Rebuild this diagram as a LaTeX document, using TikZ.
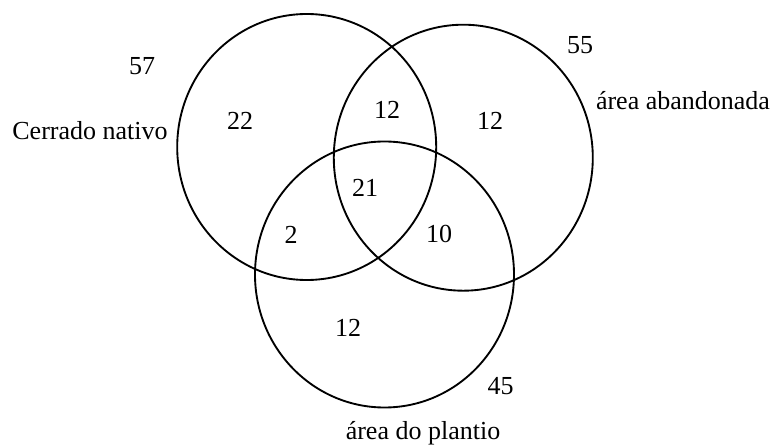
\documentclass[tikz,border=0pt]{standalone}
\usepackage{fontspec}
\setmainfont{Liberation Serif}
\usetikzlibrary{shapes.geometric}
\tikzset{
  venn/.style={draw=black, line width=1.4pt, ellipse, inner sep=0pt, outer sep=0pt,
    minimum width=194.25pt, minimum height=199.5pt},
  lbl/.style={inner sep=0pt, anchor=base, font=\fontsize{19.5}{22}\selectfont}
}
\begin{document}
\begin{tikzpicture}[x=0.75pt,y=-0.75pt]
\useasboundingbox (0,0) rectangle (776,445);
% circles
\node[venn] (cerrado) at (306.7,147) {};
\node[venn] (abandonada) at (463.3,157.7) {};
\node[venn] (plantio) at (384.5,274.5) {};
% set labels
\node[lbl] (n57) at (142,75) {57};
\node[lbl] (tcerrado) at (90,140) {Cerrado nativo};
\node[lbl] (n55) at (580,53.3) {55};
\node[lbl] (tabandonada) at (683,110) {área abandonada};
\node[lbl] (n45) at (500.5,395) {45};
\node[lbl] (tplantio) at (423,440) {área do plantio};
% region counts
\node[lbl] (n22) at (240,130) {22};
\node[lbl] (n12a) at (387,119) {12};
\node[lbl] (n12b) at (490,130) {12};
\node[lbl] (n21) at (365,196.5) {21};
\node[lbl] (n2) at (291,244) {2};
\node[lbl] (n10) at (439,243) {10};
\node[lbl] (n12c) at (348,336.7) {12};
\end{tikzpicture}
\end{document}
